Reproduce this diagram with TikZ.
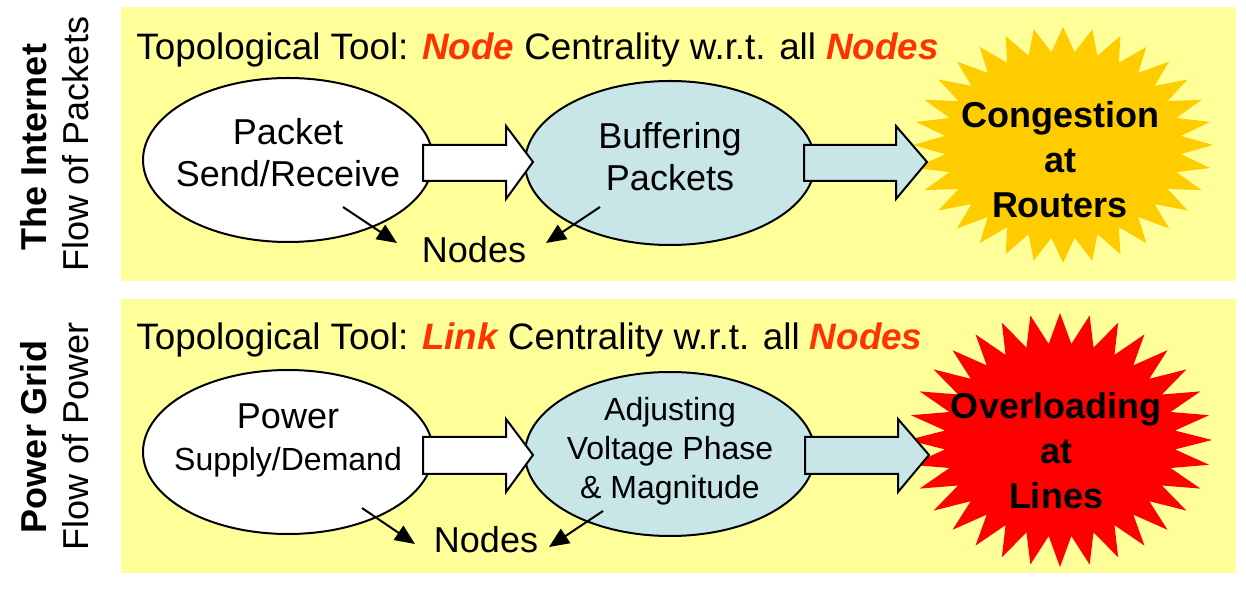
\documentclass[tikz,border=0pt]{standalone}
\usepackage{fontspec}
\setmainfont{Liberation Sans}
\usetikzlibrary{shapes.geometric,arrows.meta}
\definecolor{panelyellow}{HTML}{FFFF99}
\definecolor{paleblue}{RGB}{200,230,232}
\definecolor{titlered}{HTML}{FF3300}
\definecolor{gold}{HTML}{FFCC00}
\definecolor{boomred}{HTML}{FF0000}
\newcommand\HiLi[1]{\textcolor{titlered}{\bfseries\itshape #1}}
\begin{document}
\begin{tikzpicture}[x=0.5pt,y=-0.5pt,
  panel/.style={fill=panelyellow,draw=none},
  oval/.style={ellipse,draw=black,line width=1pt,inner sep=0pt,minimum width=145pt,minimum height=82pt},
  body/.style={font=\fontsize{18}{21}\selectfont,align=center,inner sep=0pt},
  smallbody/.style={font=\fontsize{16}{19.5}\selectfont,align=center,inner sep=0pt},
  titletext/.style={font=\fontsize{18.4}{21}\selectfont,anchor=west,inner sep=0pt},
  side/.style={font=\fontsize{18}{21}\selectfont,rotate=90,inner sep=0pt},
  boom/.style={font=\bfseries\fontsize{18}{22.5}\selectfont,align=center,inner sep=0pt},
  blockarrow/.style={draw=black,line width=1pt,line join=miter},
  ptr/.style={line width=1pt,-{Triangle[length=10pt,width=8.5pt]}}]

\useasboundingbox[fill=white] (0,0) rectangle (1246,592);

% panels
\fill[panel] (121,7) rectangle (1236,281);
\fill[panel] (121,299) rectangle (1236,573);

% side labels
\node[side,font=\bfseries\fontsize{18}{21}\selectfont] (s1) at (34,147) {The Internet};
\node[side] (s2) at (76,144) {Flow of Packets};
\node[side,font=\bfseries\fontsize{18}{21}\selectfont] (s3) at (34,437) {Power Grid};
\node[side] (s4) at (76,436) {Flow of Power};

% titles
\node[titletext] (ttop) at (136,50) {Topological Tool: \HiLi{Node} Centrality w.r.t. all \HiLi{Nodes}};
\node[titletext] (tbot) at (136,340) {Topological Tool: \HiLi{Link} Centrality w.r.t. all \HiLi{Nodes}};

% stars
\fill[gold] plot[variable=\k,samples at={0,...,63}]
  ({1063+150*(1-0.21*mod(\k,2))*cos(90+5.625*\k)},{145-118*(1-0.21*mod(\k,2))*sin(90+5.625*\k)}) -- cycle;
\fill[boomred] plot[variable=\k,samples at={0,...,63}]
  ({1060+152*(1-0.24*mod(\k,2))*cos(90+5.625*\k)},{440-127*(1-0.24*mod(\k,2))*sin(90+5.625*\k)}) -- cycle;
\node[boom] (c1) at (1060,160) {Congestion\\at\\Routers};
\node[boom] (c2) at (1056,451) {Overloading\\at\\Lines};

% ellipses
\node[oval,fill=white] (e1) at (288,160) {};
\node[oval,fill=paleblue] (e2) at (670,163) {};
\node[oval,fill=white] (e3) at (288,452) {};
\node[oval,fill=paleblue] (e4) at (670,454) {};

\node[body] (t1) at (288,153) {Packet\\Send/Receive};
\node[body] (t2) at (670,157) {Buffering\\Packets};
\node[body] (t3) at (288,440) {{\fontsize{18}{21}\selectfont Power}\\{\fontsize{16}{21}\selectfont Supply/Demand}};
\node[smallbody] (t4) at (670,451) {Adjusting\\Voltage Phase\\\& Magnitude};

% block arrows
\draw[blockarrow,fill=white] (423,145) -- (506,145) -- (506,126) -- (533,162) -- (506,199) -- (506,181) -- (423,181) -- cycle;
\draw[blockarrow,fill=paleblue] (804,145) -- (896,145) -- (896,126) -- (927,162) -- (896,199) -- (896,181) -- (804,181) -- cycle;
\draw[blockarrow,fill=white] (423,437) -- (506,437) -- (506,419) -- (533,455) -- (506,492) -- (506,474) -- (423,474) -- cycle;
\draw[blockarrow,fill=paleblue] (805,437) -- (898,437) -- (898,419) -- (929,455) -- (898,492) -- (898,474) -- (805,474) -- cycle;

% Nodes labels and pointers
\node[body] (n1) at (474,250) {Nodes};
\node[body] (n2) at (486,540) {Nodes};
\coordinate (p1s) at (343,207); \coordinate (p1e) at (397,243);
\coordinate (p2s) at (600,207); \coordinate (p2e) at (546,243);
\coordinate (p3s) at (362,508); \coordinate (p3e) at (415,544);
\coordinate (p4s) at (603,511); \coordinate (p4e) at (549,547);
\draw[ptr] (p1s) -- (p1e);
\draw[ptr] (p2s) -- (p2e);
\draw[ptr] (p3s) -- (p3e);
\draw[ptr] (p4s) -- (p4e);
\end{tikzpicture}
\end{document}
